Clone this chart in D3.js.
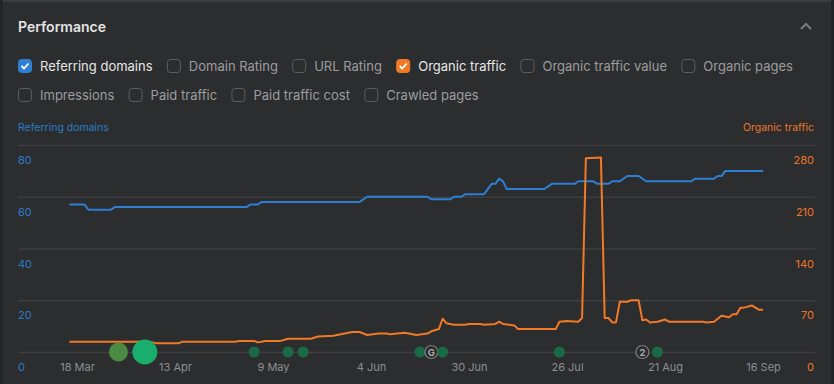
<!DOCTYPE html>
<meta charset="utf-8">
<style>
  body { margin: 0; background: #2c2d2f; }
  text { font-family: Inter, "Liberation Sans", Arial, sans-serif; }
</style>
<body>
<svg width="834" height="384"></svg>
<script src="https://d3js.org/d3.v7.min.js"></script>
<script>
  // ---- data ----
  var metricsRow1 = ['Referring domains', 'Domain Rating', 'URL Rating', 'Organic traffic', 'Organic traffic value', 'Organic pages']
  var metricsRow2 = ['Impressions', 'Paid traffic', 'Paid traffic cost', 'Crawled pages']
  var checked = { 'Referring domains': '#2d7fd3', 'Organic traffic': '#f27a26' }

  var dateTicks = ['2023-03-18', '2023-04-13', '2023-05-09', '2023-06-04', '2023-06-30', '2023-07-26', '2023-08-21', '2023-09-16']
  var leftTicks = [0, 20, 40, 60, 80]
  var rightTicks = [0, 70, 140, 210, 280]

  var referringDomains = [
    ['2023-03-16', 57], ['2023-03-20', 57], ['2023-03-21', 55], ['2023-03-27', 55], ['2023-03-28', 56],
    ['2023-05-02', 56], ['2023-05-03', 57], ['2023-05-05', 57], ['2023-05-06', 58], ['2023-06-01', 58],
    ['2023-06-03', 60], ['2023-06-19', 60], ['2023-06-20', 59], ['2023-06-25', 59], ['2023-06-26', 60],
    ['2023-06-28', 60], ['2023-06-29', 61], ['2023-07-04', 61], ['2023-07-06', 65], ['2023-07-07', 65],
    ['2023-07-08', 67], ['2023-07-09', 66], ['2023-07-10', 63], ['2023-07-20', 63], ['2023-07-22', 65],
    ['2023-07-28', 65], ['2023-07-29', 66], ['2023-08-02', 66], ['2023-08-03', 65], ['2023-08-06', 65],
    ['2023-08-07', 66], ['2023-08-09', 66], ['2023-08-11', 68], ['2023-08-14', 68], ['2023-08-16', 66],
    ['2023-08-28', 66], ['2023-08-29', 67], ['2023-09-03', 67], ['2023-09-04', 68], ['2023-09-05', 68],
    ['2023-09-06', 70], ['2023-09-16', 70]
  ]

  var organicTraffic = [
    ['2023-03-16', 14], ['2023-04-06', 14], ['2023-04-08', 12], ['2023-04-14', 12], ['2023-04-15', 14],
    ['2023-04-29', 14], ['2023-04-30', 15], ['2023-05-04', 15], ['2023-05-05', 13], ['2023-05-07', 15],
    ['2023-05-11', 15], ['2023-05-13', 18], ['2023-05-19', 18], ['2023-05-21', 21], ['2023-05-25', 22],
    ['2023-05-27', 24], ['2023-05-30', 27], ['2023-06-01', 27], ['2023-06-03', 23], ['2023-06-06', 25],
    ['2023-06-08', 25], ['2023-06-09', 24], ['2023-06-13', 26], ['2023-06-16', 23], ['2023-06-19', 25],
    ['2023-06-20', 28], ['2023-06-22', 31], ['2023-06-23', 45], ['2023-06-24', 39], ['2023-06-26', 37],
    ['2023-06-29', 37], ['2023-06-30', 38], ['2023-07-03', 38], ['2023-07-04', 37], ['2023-07-07', 38],
    ['2023-07-08', 41], ['2023-07-09', 38], ['2023-07-12', 36], ['2023-07-13', 31], ['2023-07-23', 31],
    ['2023-07-24', 41], ['2023-07-26', 42], ['2023-07-29', 41], ['2023-07-30', 46], ['2023-07-31', 262],
    ['2023-08-04', 263], ['2023-08-05', 46], ['2023-08-06', 46], ['2023-08-07', 40], ['2023-08-08', 40],
    ['2023-08-09', 68], ['2023-08-11', 68], ['2023-08-12', 70], ['2023-08-14', 70], ['2023-08-15', 43],
    ['2023-08-16', 44], ['2023-08-17', 40], ['2023-08-19', 41], ['2023-08-21', 44], ['2023-08-22', 41],
    ['2023-08-31', 41], ['2023-09-01', 40], ['2023-09-03', 41], ['2023-09-05', 49], ['2023-09-07', 47],
    ['2023-09-08', 51], ['2023-09-09', 51], ['2023-09-10', 60], ['2023-09-11', 60], ['2023-09-13', 63],
    ['2023-09-15', 57], ['2023-09-16', 57]
  ]

  var events = [
    ['2023-03-29', 'medium'], ['2023-04-05', 'large'], ['2023-05-04', 'small'], ['2023-05-13', 'small'],
    ['2023-05-17', 'small'], ['2023-06-17', 'small'], ['2023-06-20', 'G'], ['2023-06-23', 'small'],
    ['2023-07-24', 'small'], ['2023-08-15', '2'], ['2023-08-19', 'small']
  ]

  // ---- setup ----
  var parse = d3.utcParse('%Y-%m-%d')
  var svg = d3.select('svg')

  // panel edges
  svg.append('rect').attr('x', 0).attr('y', 0).attr('width', 834).attr('height', 2).attr('fill', '#3c3d40')
  svg.append('rect').attr('x', 0).attr('y', 0).attr('width', 3).attr('height', 384).attr('fill', '#232426')
  svg.append('rect').attr('x', 831).attr('y', 0).attr('width', 3).attr('height', 384).attr('fill', '#232426')

  svg.append('text').attr('x', 18).attr('y', 32).attr('fill', '#e4e4e4')
    .attr('font-size', 14).attr('font-weight', 600).text('Performance')

  svg.append('path').attr('d', 'M801,29 L806,24 L811,29').attr('fill', 'none')
    .attr('stroke', '#7b7c7e').attr('stroke-width', 2)

  // ---- checkbox rows ----
  function drawRow(items, cy) {
    var x = 18
    items.forEach(function(name) {
      var g = svg.append('g').attr('transform', 'translate(' + x + ',' + (cy - 7) + ')')
      var col = checked[name]
      g.append('rect').attr('x', 0.5).attr('y', 0.5).attr('width', 13).attr('height', 13).attr('rx', 3)
        .attr('fill', col || 'none').attr('stroke', col || '#5c5d60')
      if (col) {
        g.append('path').attr('d', 'M3.5,7 L6,9.5 L10.5,4.5').attr('fill', 'none')
          .attr('stroke', '#fff').attr('stroke-width', 1.8)
      }
      var t = g.append('text').attr('x', 22).attr('y', 11.5).attr('font-size', 13)
        .attr('fill', col ? '#e6e6e6' : '#9c9c9e').text(name)
      x += 22 + t.node().getComputedTextLength() + 14.3
    })
  }
  drawRow(metricsRow1, 66)
  drawRow(metricsRow2, 95)

  // ---- scales ----
  var x = d3.scaleUtc().domain([parse(dateTicks[0]), parse(dateTicks[dateTicks.length - 1])]).range([77, 763])
  var yLeft = d3.scaleLinear().domain([0, 80]).range([352, 145])
  var yRight = d3.scaleLinear().domain([0, 280]).range([352, 145])

  svg.append('text').attr('x', 18).attr('y', 131).attr('font-size', 10.5).attr('fill', '#2a7cc9').text('Referring domains')
  svg.append('text').attr('x', 814).attr('y', 131).attr('font-size', 10.5).attr('fill', '#ec7528')
    .attr('text-anchor', 'end').text('Organic traffic')

  // grid + left labels
  var leftAxis = svg.append('g').attr('transform', 'translate(18,0)')
    .call(d3.axisRight(yLeft).tickValues(leftTicks).tickSize(797).tickFormat(d3.format('d')))
  leftAxis.select('.domain').remove()
  leftAxis.selectAll('line').attr('stroke', '#3c3d40').attr('stroke-width', 1.5)
  leftAxis.selectAll('text').attr('x', 0).attr('y', 18.5).attr('dy', null).attr('text-anchor', 'start')
    .attr('fill', '#2a7cc9').attr('font-size', 11)

  var rightAxis = svg.append('g').attr('transform', 'translate(815,0)')
    .call(d3.axisLeft(yRight).tickValues(rightTicks).tickSize(0))
  rightAxis.select('.domain').remove()
  rightAxis.selectAll('text').attr('x', -1).attr('y', 18.5).attr('dy', null)
    .attr('fill', '#ec7528').attr('font-size', 11)

  var xAxis = svg.append('g').attr('transform', 'translate(0,352)')
    .call(d3.axisBottom(x).tickValues(dateTicks.map(parse)).tickSize(0).tickFormat(d3.utcFormat('%-d %b')))
  xAxis.select('.domain').remove()
  xAxis.selectAll('text').attr('y', 18.5).attr('dy', null).attr('fill', '#8d8e90').attr('font-size', 11)

  svg.selectAll('.tick text').attr('font-family', null)

  // ---- lines ----
  var blueLine = d3.line().x(function(d) { return x(parse(d[0])) }).y(function(d) { return yLeft(d[1]) })
  var orangeLine = d3.line().x(function(d) { return x(parse(d[0])) }).y(function(d) { return yRight(d[1]) })

  svg.append('path').datum(referringDomains).attr('d', blueLine).attr('fill', 'none')
    .attr('stroke', '#2d7fd3').attr('stroke-width', 2).attr('stroke-linejoin', 'round')
  svg.append('path').datum(organicTraffic).attr('d', orangeLine).attr('fill', 'none')
    .attr('stroke', '#f27a26').attr('stroke-width', 2).attr('stroke-linejoin', 'round')

  // ---- event markers ----
  var evStyle = {
    large: { r: 12.5, fill: '#19ae6c' },
    medium: { r: 9.5, fill: '#4b8a42' },
    small: { r: 5.5, fill: '#1b6a47' }
  }
  var ev = svg.append('g').selectAll('g').data(events).enter().append('g')
    .attr('transform', function(d) { return 'translate(' + x(parse(d[0])) + ',352)' })
  ev.each(function(d) {
    var g = d3.select(this)
    var s = evStyle[d[1]]
    if (s) {
      g.append('circle').attr('r', s.r).attr('fill', s.fill)
    } else {
      g.append('circle').attr('r', 6.5).attr('fill', '#2c2d2f').attr('stroke', '#7d7e80').attr('stroke-width', 1.2)
      g.append('text').attr('y', 3.5).attr('text-anchor', 'middle').attr('font-size', 9.5)
        .attr('font-weight', 700).attr('fill', '#a5a6a8').text(d[1])
    }
  })
</script>
</body>
